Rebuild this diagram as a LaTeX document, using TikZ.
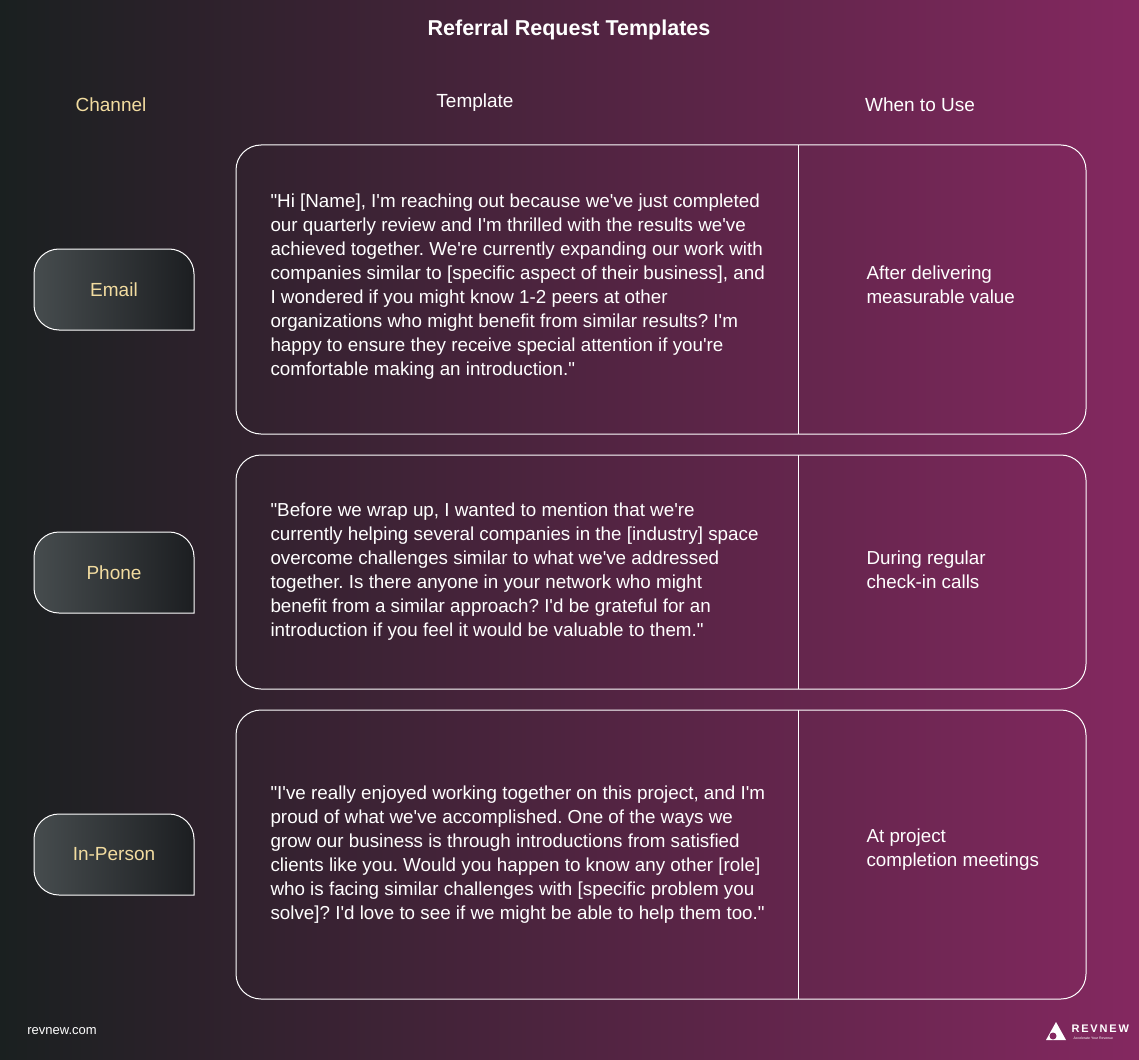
\documentclass[tikz,border=0pt]{standalone}
\usepackage{fontspec}
\setmainfont{Liberation Sans}[Ligatures=TeXOff]
\usetikzlibrary{positioning}
\definecolor{bgleft}{RGB}{26,32,32}
\definecolor{bgright}{RGB}{132,40,96}
\definecolor{gold}{RGB}{242,220,160}
\definecolor{chtop}{RGB}{70,76,78}
\definecolor{chbot}{RGB}{28,30,33}
\tikzset{
  rowbox/.style={draw=white, line width=1pt, rounded corners=25pt},
  chanbox/.style={draw=white, line width=1pt, left color=chtop, right color=chbot},
  chanlabel/.style={text=gold, font=\fontsize{19}{22}\selectfont},
  head/.style={font=\fontsize{19}{22}\selectfont},
  quote/.style={anchor=west, align=left, text=white, font=\fontsize{18.8}{24}\selectfont},
  usetext/.style={anchor=west, align=left, text=white, font=\fontsize{18.8}{24}\selectfont}
}
\newcommand{\dq}{"}
\newcommand{\chanshape}[3]{% name, top y, label
  \draw[chanbox] (34,-#2-56) -- (34,-#2-25) arc (180:90:25) -- (169,-#2) arc (90:0:25) -- (194,-#2-81) -- (59,-#2-81) arc (270:180:25) -- cycle;
  \node[chanlabel] (#1) at (114,-#2-40.5) {#3};
}
\begin{document}
\frenchspacing
\begin{tikzpicture}[x=1pt,y=1pt]
	\shade[left color=bgleft, right color=bgright] (0,0) rectangle (1139,-1059);
	\useasboundingbox (0,0) rectangle (1139,-1059);

	% Headings
	\node[text=white, font=\bfseries\fontsize{21.5}{24}\selectfont] (title) at (569,-30) {Referral Request Templates};
	\node[head, text=gold] (hchan) at (111,-105) {Channel};
	\node[head, text=white] (htemp) at (475,-103) {Template};
	\node[head, text=white] (huse) at (920,-105) {When to Use};

	% Rows
	\draw[rowbox] (236,-145) rectangle (1086,-434);
	\draw[white, line width=1pt] (798,-145) -- (798,-434);
	\draw[rowbox] (236,-455) rectangle (1086,-689);
	\draw[white, line width=1pt] (798,-455) -- (798,-689);
	\draw[rowbox] (236,-710) rectangle (1086,-999);
	\draw[white, line width=1pt] (798,-710) -- (798,-999);

	% Channels
	\chanshape{email}{249}{Email}
	\chanshape{phone}{532}{Phone}
	\chanshape{person}{814}{In-Person}

	% Templates
	\node[quote] (qemail) at (267,-287) {\dq Hi [Name], I'm reaching out because we've just completed\\our quarterly review and I'm thrilled with the results we've\\achieved together. We're currently expanding our work with\\companies similar to [specific aspect of their business], and\\I wondered if you might know 1-2 peers at other\\organizations who might benefit from similar results? I'm\\happy to ensure they receive special attention if you're\\comfortable making an introduction.\dq};
	\node[quote] (qphone) at (267,-572) {\dq Before we wrap up, I wanted to mention that we're\\currently helping several companies in the [industry] space\\overcome challenges similar to what we've addressed\\together. Is there anyone in your network who might\\benefit from a similar approach? I'd be grateful for an\\introduction if you feel it would be valuable to them.\dq};
	\node[quote] (qperson) at (267,-855) {\dq I've really enjoyed working together on this project, and I'm\\proud of what we've accomplished. One of the ways we\\grow our business is through introductions from satisfied\\clients like you. Would you happen to know any other [role]\\who is facing similar challenges with [specific problem you\\solve]? I'd love to see if we might be able to help them too.\dq};

	% When to use
	\node[usetext] (uemail) at (863,-285) {After delivering\\measurable value};
	\node[usetext] (uphone) at (863,-570) {During regular\\check-in calls};
	\node[usetext] (uperson) at (863,-850) {At project\\completion meetings};

	% Footer
	\node[text=white, font=\fontsize{13}{15}\selectfont] (site) at (62,-1031) {revnew.com};
	\fill[white] (1046,-1040) -- (1056,-1022) -- (1066,-1040) -- cycle;
	\fill[bgright] (1053,-1036) circle (3.5);
	\node[text=white, anchor=west, font=\bfseries\fontsize{11}{13}\selectfont] (logo) at (1068,-1029) {R\,E\,V\,N\,E\,W};
	\node[text=white, anchor=west, font=\fontsize{3.5}{4}\selectfont] (tag) at (1070,-1038) {Accelerate Your Revenue};
\end{tikzpicture}
\end{document}
